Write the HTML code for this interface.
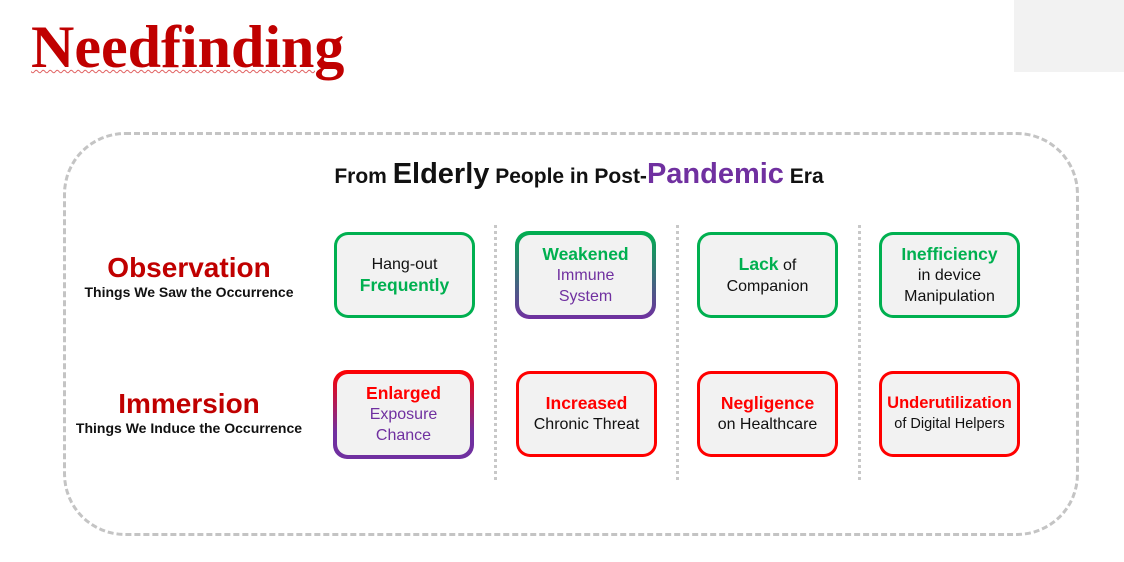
<!DOCTYPE html>
<html><head><meta charset="utf-8"><style>
*{margin:0;padding:0;box-sizing:border-box}
body{width:1124px;height:562px;position:relative;background:#fff;font-family:"Liberation Sans","DejaVu Sans",sans-serif;overflow:hidden}
.abs{position:absolute}
.box{position:absolute;width:141px;border-radius:14px;padding:3px;}
.box .in{width:100%;height:100%;background:#f2f2f2;border-radius:11px;display:flex;flex-direction:column;justify-content:center;align-items:center;text-align:center;font-size:16px;line-height:21px;color:#111}
.g{color:#00b050;font-weight:bold;font-size:17.5px}
.r{color:#ff0000;font-weight:bold;font-size:17.5px}
.p{color:#7030a0}
.sep{position:absolute;top:225px;height:255px;border-left:3px dotted #c8c8c8}
</style></head><body>
<div class="abs" style="left:1014px;top:0;width:110px;height:72px;background:#f2f2f2"></div>
<div class="abs" style="left:31px;top:12px;font-family:'Liberation Serif',serif;font-weight:bold;font-size:60px;line-height:70px;color:#c00000;text-decoration:underline wavy #e06060 1px;text-underline-offset:2px">Needfinding</div>
<div class="abs" style="left:63px;top:132px;width:1016px;height:404px;border:3px dashed #c4c4c4;border-radius:62px"></div>
<div class="abs" style="left:0;width:1158px;top:158px;text-align:center;font-weight:bold;font-size:21px;color:#111">From <span style="font-size:29px">Elderly</span> People in Post-<span style="font-size:29px;color:#7030a0">Pandemic</span> Era</div>
<div class="abs" style="left:60px;width:258px;top:252px;text-align:center">
<div style="color:#c00000;font-weight:bold;font-size:28px;line-height:32px">Observation</div>
<div style="font-weight:bold;font-size:14px;color:#111">Things We Saw the Occurrence</div></div>
<div class="abs" style="left:60px;width:258px;top:388px;text-align:center">
<div style="color:#c00000;font-weight:bold;font-size:28px;line-height:32px">Immersion</div>
<div style="font-weight:bold;font-size:14px;color:#111">Things We Induce the Occurrence</div></div>
<div class="sep" style="left:494px"></div>
<div class="sep" style="left:676px"></div>
<div class="sep" style="left:858px"></div>

<div class="box" style="left:334px;top:232px;height:86px;background:#00b050"><div class="in"><div>Hang-out</div><div class="g">Frequently</div></div></div>
<div class="box" style="left:515px;top:231px;height:88px;padding:4px;background:linear-gradient(#00b050,#7030a0)"><div class="in"><div class="g">Weakened</div><div class="p">Immune</div><div class="p">System</div></div></div>
<div class="box" style="left:697px;top:232px;height:86px;background:#00b050"><div class="in"><div><span class="g">Lack</span> of</div><div>Companion</div></div></div>
<div class="box" style="left:879px;top:232px;height:86px;background:#00b050"><div class="in"><div class="g">Inefficiency</div><div>in device</div><div>Manipulation</div></div></div>

<div class="box" style="left:333px;top:370px;height:89px;padding:4px;background:linear-gradient(#ff0000,#7030a0 70%)"><div class="in"><div class="r">Enlarged</div><div class="p">Exposure</div><div class="p">Chance</div></div></div>
<div class="box" style="left:516px;top:371px;height:86px;background:#ff0000"><div class="in"><div class="r">Increased</div><div>Chronic Threat</div></div></div>
<div class="box" style="left:697px;top:371px;height:86px;background:#ff0000"><div class="in"><div class="r">Negligence</div><div>on Healthcare</div></div></div>
<div class="box" style="left:879px;top:371px;height:86px;background:#ff0000"><div class="in"><div class="r" style="font-size:16.5px">Underutilization</div><div style="font-size:14.5px">of Digital Helpers</div></div></div>
</body></html>
